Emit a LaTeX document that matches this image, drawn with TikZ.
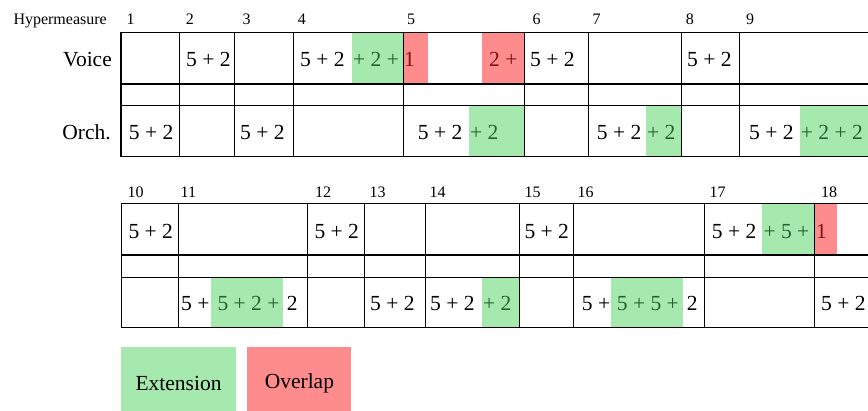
\documentclass[tikz,border=0pt]{standalone}
\usepackage{fontspec}
\setmainfont{Liberation Serif}
\usepackage{xcolor}
\usetikzlibrary{positioning}
\definecolor{extfill}{RGB}{166,233,175}
\definecolor{ovlfill}{RGB}{255,140,140}
\definecolor{exttext}{RGB}{38,98,48}
\definecolor{ovltext}{RGB}{128,18,18}

\begin{document}
\begin{tikzpicture}[x=1pt,y=-1pt,
  grid/.style={line width=1.5pt,line cap=rect},
  lab/.style={font=\fontsize{16}{18}\selectfont,inner sep=0pt,anchor=base west},
  rowlab/.style={font=\fontsize{21.5}{24}\selectfont,inner sep=0pt,anchor=base east},
  cell/.style={font=\fontsize{21.5}{24}\selectfont,inner sep=0pt,anchor=base west},
  exttxt/.style={cell,text=exttext},
  ovltxt/.style={cell,text=ovltext},
  legend/.style={font=\fontsize{21.5}{24}\selectfont,inner sep=0pt,minimum height=72pt}
]
\clip (0,0) rectangle (868,410);

\fill[extfill] (352,32.3) rectangle (403.7,84);
\fill[ovlfill] (403.7,32.3) rectangle (427.7,84);
\fill[ovlfill] (482,32.3) rectangle (524.7,84);
\fill[extfill] (469,105.7) rectangle (524.7,156.7);
\fill[extfill] (646,105.7) rectangle (681.7,156.7);
\fill[extfill] (800,105.7) rectangle (870,156.7);
\fill[extfill] (762.3,203.3) rectangle (814.3,255);
\fill[ovlfill] (814.3,203.3) rectangle (836.7,255);
\fill[extfill] (211,277.3) rectangle (283.3,327.7);
\fill[extfill] (482,277.3) rectangle (519.7,327.7);
\fill[extfill] (611,277.3) rectangle (683,327.7);

\foreach \y in {32.3,84,105.7,156.7}
  \draw[grid] (121,\y) -- (872,\y);
\foreach \x in {121,179.3,234.3,293.3,403.7,524.7,588.7,681.7,739.7}
  \draw[grid] (\x,32.3) -- (\x,156.7);
\foreach \y in {203.3,255,277.3,327.7}
  \draw[grid] (121.3,\y) -- (872,\y);
\foreach \x in {121.3,178.7,307.3,364.3,425.3,519.7,573.7,704.3,814.3}
  \draw[grid] (\x,203.3) -- (\x,327.7);

\node[lab] (hm) at (13.3,24) {Hypermeasure};
\foreach \x/\n in {126.5/1,185.7/2,242.3/3,297.7/4,407/5,532.3/6,592.3/7,685.7/8,746/9}
  \node[lab] (n\n) at (\x,24) {\n};
\foreach \x/\n in {127.5/10,180.5/11,315/12,369.3/13,429.3/14,524.3/15,577.3/16,709.3/17,821/18}
  \node[lab] (n\n) at (\x,197) {\n};

\node[rowlab] (voice) at (112,66) {Voice};
\node[rowlab] (orch) at (111,139) {Orch.};

\node[cell] (v2) at (186,66) {5 + 2};
\node[cell] (v4) at (300,66) {5 + 2};
\node[exttxt] (v4e) at (353,66) {+ 2 +};
\node[ovltxt] (v4o) at (404,66) {1};
\node[ovltxt] (v5o) at (489,66) {2 +};
\node[cell] (v6) at (530,66) {5 + 2};
\node[cell] (v8) at (687,66) {5 + 2};

\node[cell] (o1) at (128.7,139) {5 + 2};
\node[cell] (o3) at (240,139) {5 + 2};
\node[cell] (o5) at (417.7,139) {5 + 2};
\node[exttxt] (o5e) at (470,139) {+ 2};
\node[cell] (o7) at (596.7,139) {5 + 2};
\node[exttxt] (o7e) at (647,139) {+ 2};
\node[cell] (o9) at (749,139) {5 + 2};
\node[exttxt] (o9e) at (800.7,139) {+ 2 + 2};

\node[cell] (v10) at (128.3,238) {5 + 2};
\node[cell] (v12) at (314.3,238) {5 + 2};
\node[cell] (v15) at (524.3,238) {5 + 2};
\node[cell] (v17) at (711.7,238) {5 + 2};
\node[exttxt] (v17e) at (763.3,238) {+ 5 +};
\node[ovltxt] (v17o) at (816,238) {1};

\node[cell] (o11) at (181,310) {5 +};
\node[exttxt] (o11e) at (217.3,310) {5 + 2 +};
\node[cell] (o11b) at (286.7,310) {2};
\node[cell] (o13) at (370,310) {5 + 2};
\node[cell] (o14) at (430,310) {5 + 2};
\node[exttxt] (o14e) at (483,310) {+ 2};
\node[cell] (o16) at (581.7,310) {5 +};
\node[exttxt] (o16e) at (616.7,310) {5 + 5 +};
\node[cell] (o16b) at (686.7,310) {2};
\node[cell] (o18) at (821,310) {5 + 2};

\node[legend,fill=extfill,minimum width=115pt] (ext) at (178.5,383) {Extension};
\node[legend,fill=ovlfill,minimum width=104pt,right=11pt of ext] (ovl) {Overlap};
\end{tikzpicture}
\end{document}
